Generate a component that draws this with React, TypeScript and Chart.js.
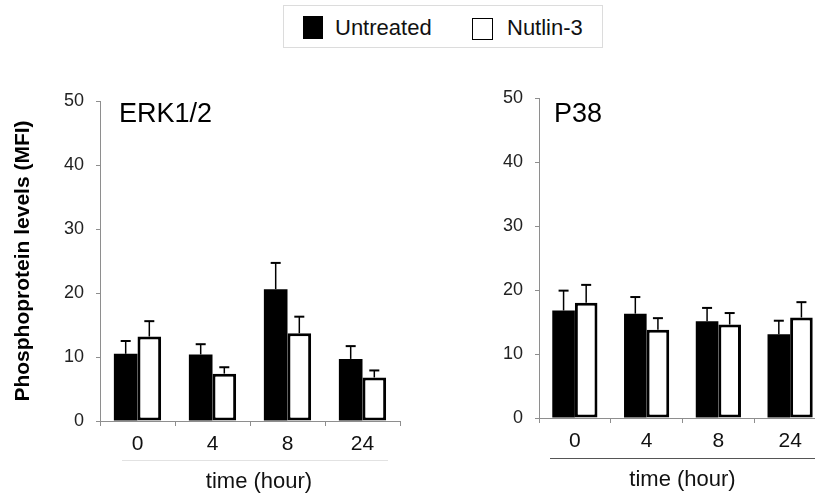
import React, { useEffect, useRef } from "react";
import { Chart, registerables } from "chart.js";

Chart.register(...registerables);

// ---------- data ----------
const categories = ["0", "4", "8", "24"];
const seriesNames = ["Untreated", "Nutlin-3"];
const panelTitles = ["ERK1/2", "P38"];
const xAxisTitle = "time (hour)";
const yAxisTitle = "Phosphoprotein levels (MFI)";
const yTickValues = [0, 10, 20, 30, 40, 50];

const erkUntreated = [10.5, 10.4, 20.6, 9.7];
const erkUntreatedErr = [2.0, 1.6, 4.1, 2.0];
const erkNutlin = [13.2, 7.4, 13.7, 6.8];
const erkNutlinErr = [2.4, 1.0, 2.6, 1.1];

const p38Untreated = [16.8, 16.3, 15.1, 13.1];
const p38UntreatedErr = [3.1, 2.6, 2.1, 2.1];
const p38Nutlin = [18.0, 13.8, 14.6, 15.7];
const p38NutlinErr = [2.8, 1.8, 1.8, 2.4];

const FONT = "'Liberation Sans', Arial, Helvetica, sans-serif";
const AXIS_GRAY = "#8e8e8e";

Chart.defaults.font.family = FONT;

// ---------- plugins ----------
const errorBarPlugin = {
  id: "errorBars",
  afterDatasetsDraw(chart: any) {
    const ctx = chart.ctx;
    const yScale = chart.scales.y;
    chart.data.datasets.forEach((ds: any, di: number) => {
      const meta = chart.getDatasetMeta(di);
      meta.data.forEach((bar: any, i: number) => {
        const v = ds.data[i];
        const e = ds.errors[i];
        const x = bar.x;
        const yTop = yScale.getPixelForValue(v);
        const yErr = yScale.getPixelForValue(v + e);
        ctx.save();
        ctx.strokeStyle = "#000";
        ctx.lineWidth = 1.5;
        ctx.beginPath();
        ctx.moveTo(x, yTop);
        ctx.lineTo(x, yErr);
        ctx.stroke();
        ctx.lineWidth = 2;
        ctx.beginPath();
        ctx.moveTo(x - 5, yErr);
        ctx.lineTo(x + 5, yErr);
        ctx.stroke();
        ctx.restore();
      });
    });
  },
};

const decorPlugin = {
  id: "decor",
  afterDraw(chart: any, _args: any, o: any) {
    const { ctx, chartArea } = chart;
    ctx.save();
    ctx.fillStyle = "#000";
    ctx.font = `27px ${FONT}`;
    ctx.textAlign = "left";
    ctx.textBaseline = "alphabetic";
    ctx.fillText(o.title, chartArea.left + o.titleDx, chartArea.top + o.titleDy);

    ctx.strokeStyle = o.sepColor;
    ctx.lineWidth = 1;
    ctx.beginPath();
    const sy = Math.round(chartArea.bottom + o.sepDy) + 0.5;
    ctx.moveTo(chartArea.left + o.sepX0, sy);
    ctx.lineTo(chartArea.right + o.sepX1, sy);
    ctx.stroke();

    ctx.fillStyle = "#111";
    ctx.font = `22px ${FONT}`;
    ctx.textAlign = "center";
    ctx.fillText(
      o.xTitle,
      (chartArea.left + chartArea.right) / 2 + o.xTitleDx,
      chartArea.bottom + o.xTitleDy
    );
    ctx.restore();
  },
};

type PanelProps = {
  left: number;
  width: number;
  height: number;
  padTop: number;
  yWidth: number;
  xHeight: number;
  padRight: number;
  showYTitle: boolean;
  title: string;
  untreated: number[];
  untreatedErr: number[];
  nutlin: number[];
  nutlinErr: number[];
  decor: any;
};

function Panel(p: PanelProps) {
  const ref = useRef<HTMLCanvasElement | null>(null);
  useEffect(() => {
    if (!ref.current) return;
    const chart = new Chart(ref.current, {
      type: "bar",
      data: {
        labels: categories,
        datasets: [
          {
            label: seriesNames[0],
            data: p.untreated,
            errors: p.untreatedErr,
            backgroundColor: "#000",
            borderWidth: 0,
            categoryPercentage: 0.63,
            barPercentage: 1,
          } as any,
          {
            label: seriesNames[1],
            data: p.nutlin,
            errors: p.nutlinErr,
            backgroundColor: "#fff",
            borderColor: "#000",
            borderWidth: 3,
            borderSkipped: false,
            categoryPercentage: 0.63,
            barPercentage: 1,
          } as any,
        ],
      },
      options: {
        animation: false,
        responsive: true,
        maintainAspectRatio: false,
        layout: { padding: { top: p.padTop, right: p.padRight, bottom: 0, left: 0 } },
        plugins: {
          legend: { display: false },
          tooltip: { enabled: false },
          decor: { ...p.decor, title: p.title, xTitle: xAxisTitle },
        } as any,
        scales: {
          x: {
            type: "category",
            offset: true,
            grid: {
              display: true,
              drawOnChartArea: false,
              drawTicks: true,
              tickLength: 5,
              color: AXIS_GRAY,
              offset: true,
            },
            border: { display: true, color: AXIS_GRAY, width: 1 },
            ticks: { color: "#111", font: { size: 21, family: FONT }, padding: 6 },
            afterFit: (s: any) => {
              s.height = p.xHeight;
            },
          },
          y: {
            min: 0,
            max: 50,
            afterBuildTicks: (s: any) => {
              s.ticks = yTickValues.map((v) => ({ value: v }));
            },
            grid: {
              display: true,
              drawOnChartArea: false,
              drawTicks: true,
              tickLength: 4,
              color: AXIS_GRAY,
            },
            border: { display: true, color: AXIS_GRAY, width: 1 },
            ticks: { color: "#222", font: { size: 18, family: FONT }, padding: 12 },
            title: {
              display: p.showYTitle,
              text: yAxisTitle,
              color: "#000",
              font: { size: 21, weight: "bold", family: FONT },
              padding: { top: 11, bottom: 0 },
            },
            afterFit: (s: any) => {
              s.width = p.yWidth;
            },
          },
        },
      },
      plugins: [errorBarPlugin, decorPlugin],
    } as any);
    return () => chart.destroy();
  }, []);
  return (
    <div
      style={{
        position: "absolute",
        left: p.left,
        top: 0,
        width: p.width,
        height: p.height,
      }}
    >
      <canvas ref={ref} />
    </div>
  );
}

function Legend() {
  return (
    <div
      style={{
        position: "absolute",
        left: 283,
        top: 5,
        width: 320,
        height: 43,
        border: "1px solid #dcdcdc",
        boxSizing: "border-box",
        fontFamily: FONT,
        fontSize: 22,
        color: "#111",
        background: "#fff",
      }}
    >
      <div
        style={{
          position: "absolute",
          left: 19,
          top: 10,
          width: 20,
          height: 23,
          background: "#000",
        }}
      />
      <span style={{ position: "absolute", left: 51, top: 10, lineHeight: "24px", whiteSpace: "nowrap" }}>
        {seriesNames[0]}
      </span>
      <div
        style={{
          position: "absolute",
          left: 188,
          top: 12,
          width: 21,
          height: 22,
          border: "1.5px solid #000",
          boxSizing: "border-box",
          background: "#fff",
        }}
      />
      <span style={{ position: "absolute", left: 223, top: 10, lineHeight: "24px", whiteSpace: "nowrap" }}>
        {seriesNames[1]}
      </span>
    </div>
  );
}

export default function App() {
  return (
    <div
      style={{
        position: "absolute",
        left: 0,
        top: 0,
        width: 815,
        height: 499,
        overflow: "hidden",
        background: "#fff",
      }}
    >
      <Panel
        left={0}
        width={420}
        height={499}
        padTop={101}
        yWidth={100}
        xHeight={78}
        padRight={20}
        showYTitle={true}
        title={panelTitles[0]}
        untreated={erkUntreated}
        untreatedErr={erkUntreatedErr}
        nutlin={erkNutlin}
        nutlinErr={erkNutlinErr}
        decor={{
          titleDx: 19,
          titleDy: 21,
          sepColor: "#e2e2e2",
          sepDy: 39,
          sepX0: 22,
          sepX1: -12,
          xTitleDx: 9,
          xTitleDy: 67,
        }}
      />
      <Panel
        left={421}
        width={405}
        height={499}
        padTop={98}
        yWidth={118}
        xHeight={81}
        padRight={0}
        showYTitle={false}
        title={panelTitles[1]}
        untreated={p38Untreated}
        untreatedErr={p38UntreatedErr}
        nutlin={p38Nutlin}
        nutlinErr={p38NutlinErr}
        decor={{
          titleDx: 15,
          titleDy: 24,
          sepColor: "#555",
          sepDy: 40,
          sepX0: 11,
          sepX1: 10,
          xTitleDx: 0,
          xTitleDy: 68,
        }}
      />
      <Legend />
    </div>
  );
}
